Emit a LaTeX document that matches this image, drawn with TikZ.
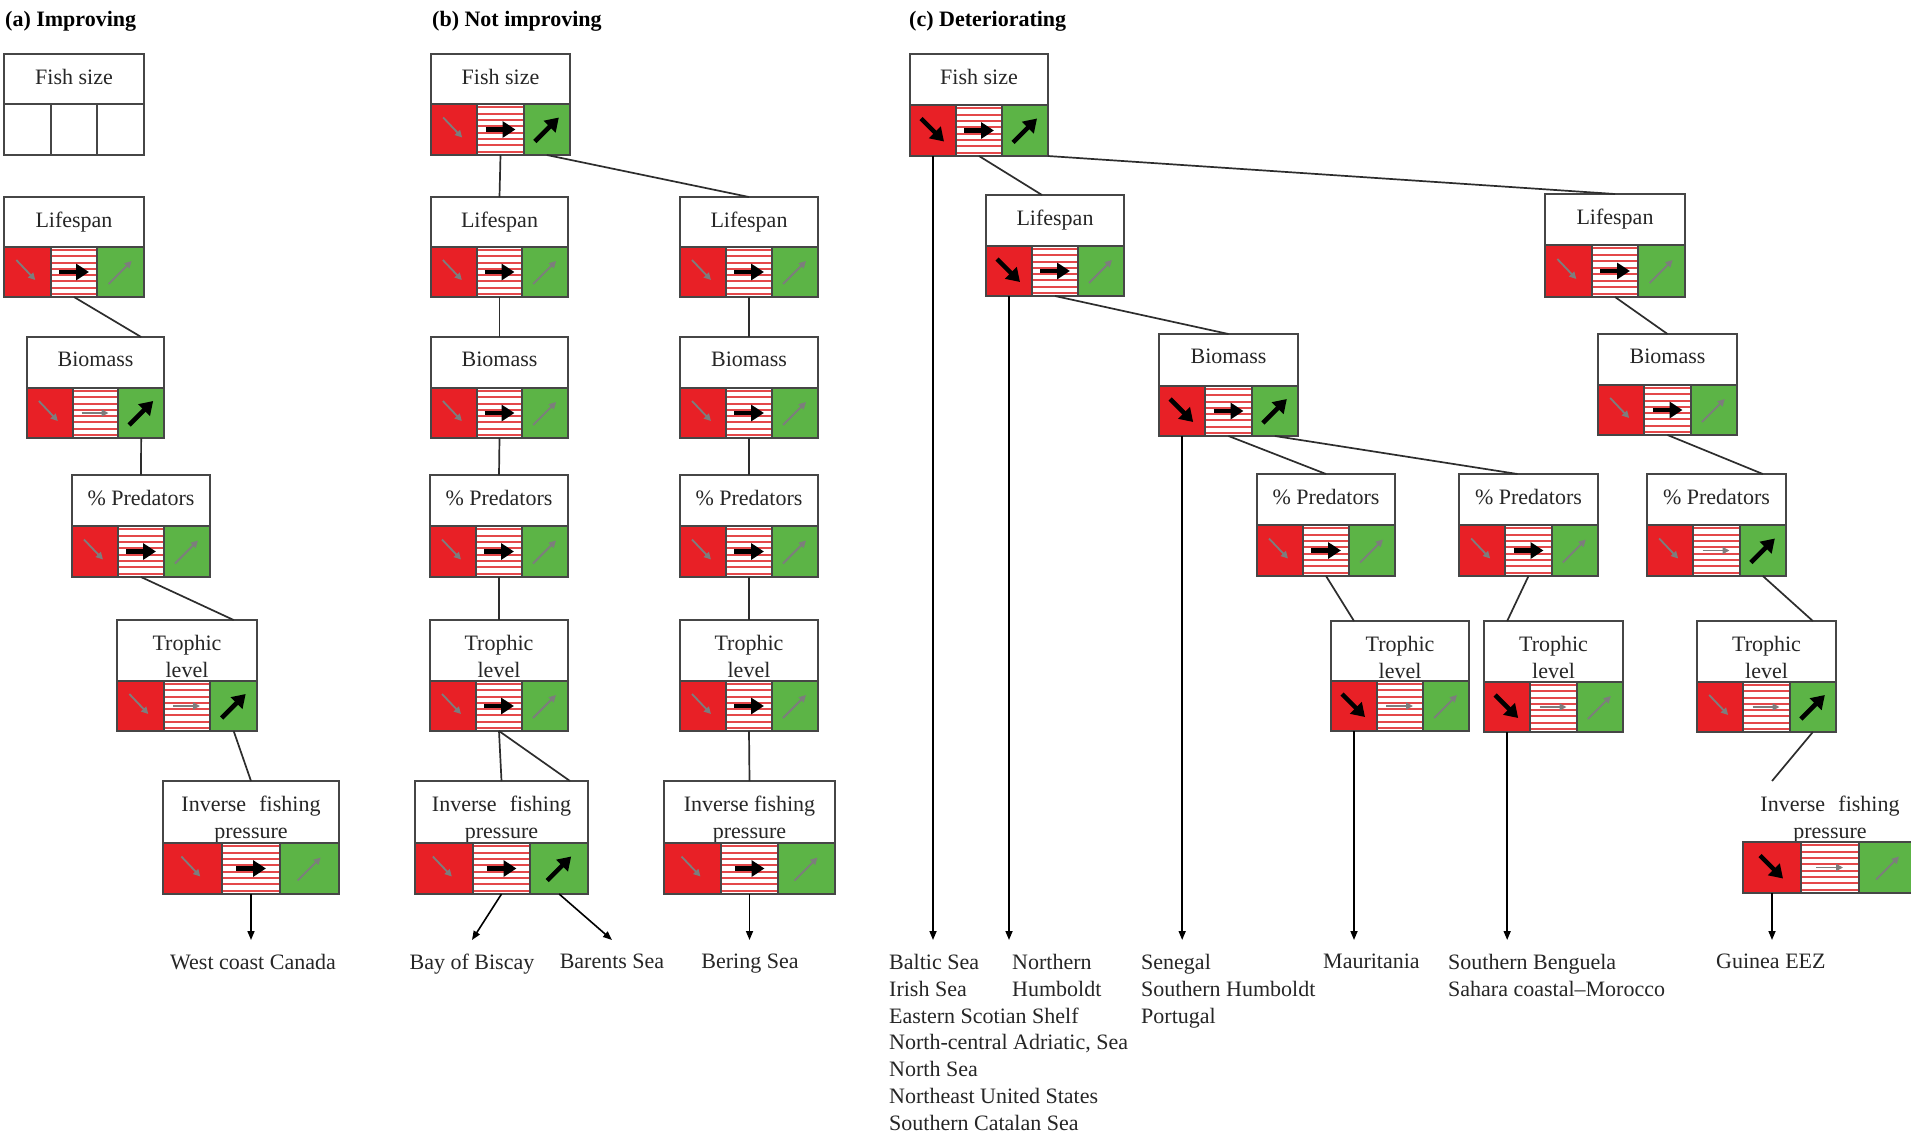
\documentclass[tikz,border=0pt]{standalone}
\usepackage{fontspec}
\setmainfont{Liberation Serif}
\usetikzlibrary{arrows.meta,calc}
\definecolor{cred}{RGB}{232,32,38}
\definecolor{cgreen}{RGB}{92,180,70}
\definecolor{cstripe}{RGB}{228,72,74}
\definecolor{cborder}{RGB}{70,70,70}
\definecolor{cline}{RGB}{45,45,45}
\definecolor{cgrey}{RGB}{125,125,125}
\tikzset{
  hdrbox/.style={draw=cborder, line width=1.8pt, fill=white, inner sep=0pt, outer sep=0pt},
  hdrnone/.style={draw=none, inner sep=0pt, outer sep=0pt},
  cellr/.style={draw=cborder, line width=1.8pt, fill=cred, inner sep=0pt, outer sep=0pt},
  cellm/.style={draw=cborder, line width=1.8pt, fill=white, inner sep=0pt, outer sep=0pt},
  cellg/.style={draw=cborder, line width=1.8pt, fill=cgreen, inner sep=0pt, outer sep=0pt},
  cellw/.style={draw=cborder, line width=1.8pt, fill=white, inner sep=0pt, outer sep=0pt},
  stripe/.style={cstripe, line width=2pt, shorten <=1pt, shorten >=1pt},
  hdrtxt/.style={font=\fontsize{22}{27}\selectfont, align=center, inner sep=0pt, anchor=north, text=black!85},
  selarr/.style={line width=4.5pt, black, -{Triangle[length=13pt,width=16pt]}},
  unsarr/.style={line width=1.8pt, cgrey, -{Triangle[length=7pt,width=7pt]}},
  conn/.style={line width=1.7pt, cline},
  outarr/.style={line width=1.6pt, black, -{Triangle[length=9pt,width=7pt]}},
  lab/.style={font=\fontsize{22}{26.8}\selectfont, inner sep=0pt, text=black!85},
  ttl/.style={font=\fontsize{22}{27}\selectfont\bfseries, inner sep=0pt, anchor=base west},
}
\newcommand\arrset[4]{%
  \ifnum#2=1 \draw[selarr] ([shift={(-12,-12)}]#1-r.center) -- ([shift={(11,11)}]#1-r.center);
  \else \draw[unsarr] ([shift={(-11,-12)}]#1-r.center) -- ([shift={(8,8)}]#1-r.center);\fi
  \ifnum#3=1 \draw[selarr] ([shift={(-15,0)}]#1-m.center) -- ([shift={(15,0)}]#1-m.center);
  \else \draw[unsarr] ([shift={(-14,0)}]#1-m.center) -- ([shift={(13,0)}]#1-m.center);\fi
  \ifnum#4=1 \draw[selarr] ([shift={(-12,12)}]#1-g.center) -- ([shift={(12,-12)}]#1-g.center);
  \else \draw[unsarr] ([shift={(-12,12)}]#1-g.center) -- ([shift={(11,-11)}]#1-g.center);\fi
}
\newcommand\cells[6]{%
  \pgfmathsetmacro\cw{(#3-#2)/3}%
  \pgfmathsetmacro\ch{#5-#4}%
  \pgfmathsetmacro\cy{(#4+#5)/2}%
  \node[cellr, minimum width=\cw pt, minimum height=\ch pt] (#1-r) at ({#2+0.5*\cw},\cy) {};
  \node[cellm, minimum width=\cw pt, minimum height=\ch pt] (#1-m) at ({#2+1.5*\cw},\cy) {};
  \foreach \k in {1,...,8} \draw[stripe] ($(#1-m.north west)!{(\k-0.5)/8}!(#1-m.south west)$) -- ($(#1-m.north east)!{(\k-0.5)/8}!(#1-m.south east)$);
  \node[cellg, minimum width=\cw pt, minimum height=\ch pt] (#1-g) at ({#2+2.5*\cw},\cy) {};
  \arrset{#1}#6
}
\newcommand\fbx[8]{%
  \pgfmathsetmacro\bw{#3-#2}%
  \pgfmathsetmacro\hh{#5-#4}%
  \node[hdrbox, minimum width=\bw pt, minimum height=\hh pt] (#1) at ({(#2+#3)/2},{(#4+#5)/2}) {};
  \node[hdrtxt] (#1-t) at ($(#1.north)+(0,15)$) {#7};
  \cells{#1}{#2}{#3}{#5}{#6}{#8}
}
\newcommand\fbxempty[7]{%
  \pgfmathsetmacro\bw{#3-#2}%
  \pgfmathsetmacro\hh{#5-#4}%
  \pgfmathsetmacro\cw{(#3-#2)/3}%
  \pgfmathsetmacro\ch{#6-#5}%
  \pgfmathsetmacro\cy{(#5+#6)/2}%
  \node[hdrbox, minimum width=\bw pt, minimum height=\hh pt] (#1) at ({(#2+#3)/2},{(#4+#5)/2}) {};
  \node[hdrtxt] (#1-t) at ($(#1.north)+(0,15)$) {#7};
  \node[cellw, minimum width=\cw pt, minimum height=\ch pt] (#1-r) at ({#2+0.5*\cw},\cy) {};
  \node[cellw, minimum width=\cw pt, minimum height=\ch pt] (#1-m) at ({#2+1.5*\cw},\cy) {};
  \node[cellw, minimum width=\cw pt, minimum height=\ch pt] (#1-g) at ({#2+2.5*\cw},\cy) {};
}
\begin{document}
\begin{tikzpicture}[x=1pt,y=-1pt]
\path[use as bounding box, fill=white] (0,0) rectangle (1911,1133);

% titles
\node[ttl] (ta) at (5,26) {(a) Improving};
\node[ttl] (tb) at (432,26) {(b) Not improving};
\node[ttl] (tc) at (909,26) {(c) Deteriorating};

% (a)
\fbxempty{a1}{4}{144}{54}{104}{155}{Fish size}
\fbx{a2}{4}{144}{197}{247}{297}{Lifespan}{010}
\fbx{a3}{27}{164}{337}{388}{438}{Biomass}{001}
\fbx{a4}{72}{210}{475}{526}{577}{\% Predators}{010}
\fbx{a5}{117}{257}{620}{681}{731}{Trophic\\level}{001}
\fbx{a6}{163}{339}{781}{843}{894}{Inverse\hspace{0.6em}fishing\\pressure}{010}

% (b)
\fbx{b1}{431}{570}{54}{104}{155}{Fish size}{011}
\fbx{b2}{431}{568}{197}{247}{297}{Lifespan}{010}
\fbx{b3}{431}{568}{337}{388}{438}{Biomass}{010}
\fbx{b4}{430}{568}{475}{526}{577}{\% Predators}{010}
\fbx{b5}{430}{568}{620}{681}{731}{Trophic\\level}{010}
\fbx{b6}{415}{588}{781}{843}{894}{Inverse\hspace{0.6em}fishing\\pressure}{011}
\fbx{b7}{680}{818}{197}{247}{297}{Lifespan}{010}
\fbx{b8}{680}{818}{337}{388}{438}{Biomass}{010}
\fbx{b9}{680}{818}{475}{526}{577}{\% Predators}{010}
\fbx{b10}{680}{818}{620}{681}{731}{Trophic\\level}{010}
\fbx{b11}{664}{835}{781}{843}{894}{Inverse fishing\\pressure}{010}

% (c)
\fbx{c1}{910}{1048}{54}{105}{156}{Fish size}{111}
\fbx{c2}{986}{1124}{195}{246}{296}{Lifespan}{110}
\fbx{c3}{1159}{1298}{334}{386}{436}{Biomass}{111}
\fbx{c4}{1257}{1395}{474}{525}{576}{\% Predators}{010}
\fbx{c5}{1331}{1469}{621}{681}{731}{Trophic\\level}{100}
\fbx{c6}{1459}{1598}{474}{525}{576}{\% Predators}{010}
\fbx{c7}{1484}{1623}{621}{682}{732}{Trophic\\level}{100}
\fbx{c8}{1545}{1685}{194}{245}{297}{Lifespan}{010}
\fbx{c9}{1598}{1737}{334}{385}{435}{Biomass}{010}
\fbx{c10}{1647}{1786}{474}{525}{576}{\% Predators}{001}
\fbx{c11}{1697}{1836}{621}{682}{732}{Trophic\\level}{001}
\node[hdrnone, minimum width=174pt, minimum height=61pt] (c12) at (1830,811.5) {};
\node[hdrtxt] (c12-t) at ($(c12.north)+(0,15)$) {Inverse\hspace{0.6em}fishing\\pressure};
\cells{c12}{1743}{1917}{842}{893}{100}

% labels
\node[lab, anchor=north] (lwcc) at (253,954) {West coast Canada};
\node[lab, anchor=north] (lbay) at (472,954) {Bay of Biscay};
\node[lab, anchor=north] (lbar) at (612,954) {Barents Sea};
\node[lab, anchor=north] (lber) at (750,954) {Bering Sea};
\node[lab, anchor=north west, align=left] (lbal) at (889,954) {Baltic Sea\\Irish Sea\\Eastern Scotian Shelf\\North-central Adriatic, Sea\\North Sea\\Northeast United States\\Southern Catalan Sea};
\node[lab, anchor=north west, align=left] (lnh) at (1012,954) {Northern\\Humboldt};
\node[lab, anchor=north west, align=left] (lsen) at (1141,954) {Senegal\\Southern Humboldt\\Portugal};
\node[lab, anchor=north west] (lmau) at (1323,954) {Mauritania};
\node[lab, anchor=north west, align=left] (lsb) at (1448,954) {Southern Benguela\\Sahara coastal–Morocco};
\node[lab, anchor=north west] (lgui) at (1716,954) {Guinea EEZ};

% connectors (a)
\draw[conn] (a2-m.south) -- (a3-g.center |- a3.north);
\draw[conn] (a3-g.south) -- (a4-m.center |- a4.north);
\draw[conn] (a4-m.south) -- (a5-g.center |- a5.north);
\draw[conn] (a5-g.south) -- (a6-m.center |- a6.north);
\coordinate (ea) at (a6-m.south |- lwcc.north);
\draw[outarr] (a6-m.south) -- ([yshift=14pt]ea);

% connectors (b)
\draw[conn] (b1-m.south) -- (b2-m.center |- b2.north);
\draw[conn] (b1-g.south) -- (b7-m.center |- b7.north);
\draw[conn] (b2-m.south) -- (b3-m.center |- b3.north);
\draw[conn] (b3-m.south) -- (b4-m.center |- b4.north);
\draw[conn] (b4-m.south) -- (b5-m.center |- b5.north);
\draw[conn] (b5-m.south) -- (b6-m.center |- b6.north);
\draw[conn] (b5-m.south) -- ([xshift=-18pt]b6.north east);
\draw[conn] (b7-m.south) -- (b8-m.center |- b8.north);
\draw[conn] (b8-m.south) -- (b9-m.center |- b9.north);
\draw[conn] (b9-m.south) -- (b10-m.center |- b10.north);
\draw[conn] (b10-m.south) -- (b11-m.center |- b11.north);
\draw[outarr] (b6-m.south) -- ([yshift=14pt]lbay.north);
\draw[outarr] (b6-g.south) -- ([yshift=14pt]lbar.north);
\coordinate (eber) at (b11-m.south |- lber.north);
\draw[outarr] (b11-m.south) -- ([yshift=14pt]eber);

% connectors (c)
\draw[conn] (c1-m.south) -- ([xshift=-13pt]c2.north);
\draw[conn] (c1-g.south east) -- (c8.north);
\draw[conn] (c2-m.south) -- (c3-m.center |- c3.north);
\draw[conn] (c3-m.south) -- (c4-m.center |- c4.north);
\draw[conn] (c3-g.south) -- ([xshift=-11pt]c6.north);
\draw[conn] (c4-m.south) -- (c5-r.center |- c5.north);
\draw[conn] (c6-m.south) -- (c7-r.center |- c7.north);
\draw[conn] (c8-m.south) -- (c9-m.center |- c9.north);
\draw[conn] (c9-m.south) -- (c10-g.center |- c10.north);
\draw[conn] (c10-g.south) -- (c11-g.center |- c11.north);
\draw[conn] (c11-g.south) -- (c12-r.center |- c12.north);
\coordinate (e1) at (c1-r.south |- lbal.north);
\coordinate (e2) at (c2-r.south |- lnh.north);
\coordinate (e3) at (c3-r.south |- lsen.north);
\coordinate (e4) at (c5-r.south |- lmau.north);
\coordinate (e5) at (c7-r.south |- lsb.north);
\coordinate (e6) at (c12-r.south |- lgui.north);
\draw[outarr] (c1-r.south) -- ([yshift=14pt]e1);
\draw[outarr] (c2-r.south) -- ([yshift=14pt]e2);
\draw[outarr] (c3-r.south) -- ([yshift=14pt]e3);
\draw[outarr] (c5-r.south) -- ([yshift=14pt]e4);
\draw[outarr] (c7-r.south) -- ([yshift=14pt]e5);
\draw[outarr] (c12-r.south) -- ([yshift=14pt]e6);
\end{tikzpicture}
\end{document}
